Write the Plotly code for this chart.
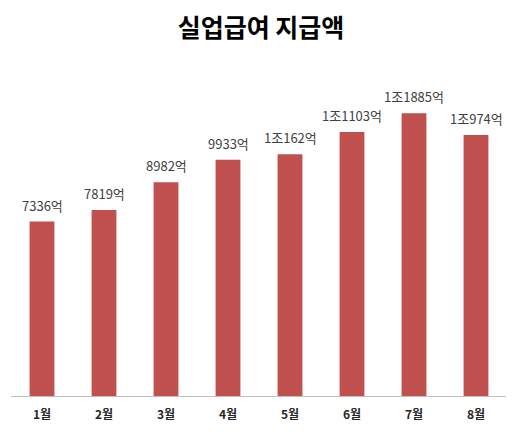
import plotly.graph_objects as go

months = ["1월", "2월", "3월", "4월", "5월", "6월", "7월", "8월"]
values = [7336, 7819, 8982, 9933, 10162, 11103, 11885, 10974]
labels = ["7336억", "7819억", "8982억", "9933억", "1조162억", "1조1103억", "1조1885억", "1조974억"]

W, H = 506, 424
fig = go.Figure()
fig.add_trace(go.Bar(
    x=months, y=values,
    marker=dict(color="#C0504D", line=dict(width=0)),
    width=0.4,
    hoverinfo="skip",
))
for m, v, t in zip(months, values, labels):
    fig.add_annotation(x=m, y=v, text=t, showarrow=False, yanchor="bottom",
                       yshift=5, font=dict(size=13, color="#404040", family="Noto Sans CJK KR"))

fig.update_layout(
    width=W, height=H,
    margin=dict(l=3, r=7, t=55, b=36),
    paper_bgcolor="white", plot_bgcolor="white",
    showlegend=False,
    title=dict(text="<b>실업급여 지급액</b>", x=0.5, xanchor="center", y=1 - 20 / H, yanchor="middle",
               font=dict(size=25, color="#000000", family="Noto Sans CJK KR")),
    xaxis=dict(showline=True, linecolor="#BFBFBF", linewidth=1, ticks="", showgrid=False,
               automargin=False,
               tickfont=dict(size=12, color="#262626", family="Noto Sans CJK KR"), ticklabelstandoff=8),
    yaxis=dict(range=[0, 14000], visible=False, showgrid=False, zeroline=False),
    font=dict(family="Noto Sans CJK KR"),
)
fig.update_xaxes(tickprefix="<b>", ticksuffix="</b>")
fig.write_html("out.html")
